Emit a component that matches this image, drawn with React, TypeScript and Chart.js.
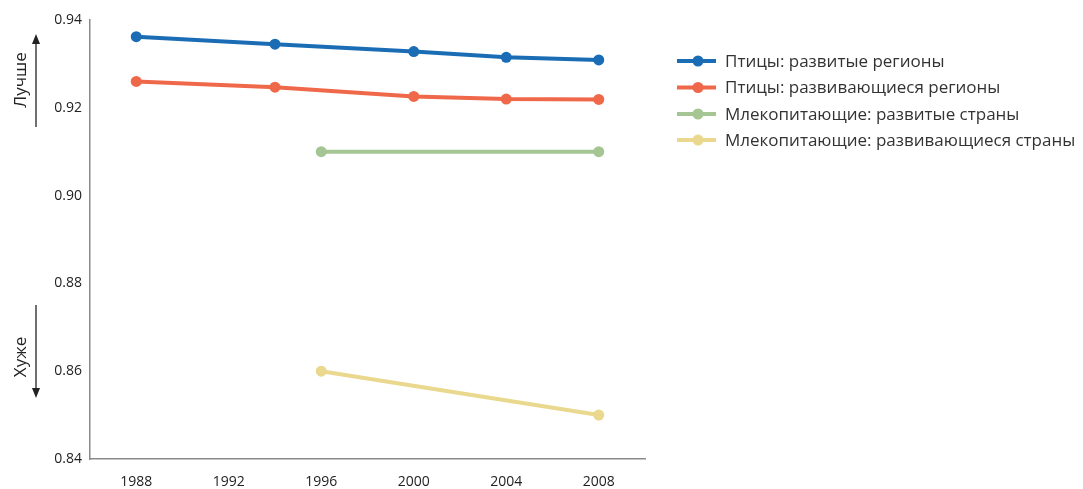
import React, { useEffect, useRef } from "react";
import { Chart, registerables } from "chart.js";

Chart.register(...registerables);

const birdYears = [1988, 1994, 2000, 2004, 2008];
const mammalYears = [1996, 2008];
const birdsDeveloped = [0.9362, 0.9345, 0.9328, 0.9315, 0.9309];
const birdsDeveloping = [0.926, 0.9247, 0.9226, 0.922, 0.9219];
const mammalsDeveloped = [0.91, 0.91];
const mammalsDeveloping = [0.86, 0.85];
const seriesNames = [
  "Птицы: развитые регионы",
  "Птицы: развивающиеся регионы",
  "Млекопитающие: развитые страны",
  "Млекопитающие: развивающиеся страны",
];
const seriesColors = ["#1a6db5", "#ef6849", "#a5c594", "#e9d88e"];
const xTicks = [1988, 1992, 1996, 2000, 2004, 2008];
const yTicks = [0.84, 0.86, 0.88, 0.9, 0.92, 0.94];
const betterLabel = "Лучше";
const worseLabel = "Хуже";

const FONT = "'Open Sans', 'Noto Sans', sans-serif";

const toPoints = (xs: number[], ys: number[]) => xs.map((x, i) => ({ x, y: ys[i] }));

const decorPlugin = {
  id: "decor",
  afterDraw(chart: any) {
    const ctx = chart.ctx;
    ctx.save();
    // legend
    const lx0 = 677;
    const lx1 = 716;
    const tx = 725;
    const rows = [61, 87.5, 114, 140];
    ctx.font = `17px ${FONT}`;
    ctx.textBaseline = "middle";
    ctx.textAlign = "left";
    chart.data.datasets.forEach((ds: any, i: number) => {
      const y = rows[i];
      ctx.strokeStyle = ds.borderColor;
      ctx.lineWidth = 4;
      ctx.beginPath();
      ctx.moveTo(lx0, y);
      ctx.lineTo(lx1, y);
      ctx.stroke();
      ctx.fillStyle = ds.borderColor;
      ctx.beginPath();
      ctx.arc(698, y, 5.5, 0, Math.PI * 2);
      ctx.fill();
      ctx.fillStyle = "#333";
      ctx.fillText(ds.label, tx, y + 1);
    });

    // better / worse arrows
    ctx.strokeStyle = "#222";
    ctx.fillStyle = "#222";
    ctx.lineWidth = 1.3;
    const ax = 36;
    ctx.beginPath();
    ctx.moveTo(ax, 127);
    ctx.lineTo(ax, 42);
    ctx.stroke();
    ctx.beginPath();
    ctx.moveTo(ax, 34);
    ctx.lineTo(ax - 4, 44);
    ctx.lineTo(ax + 4, 44);
    ctx.closePath();
    ctx.fill();
    ctx.beginPath();
    ctx.moveTo(ax, 305);
    ctx.lineTo(ax, 390);
    ctx.stroke();
    ctx.beginPath();
    ctx.moveTo(ax, 398);
    ctx.lineTo(ax - 4, 388);
    ctx.lineTo(ax + 4, 388);
    ctx.closePath();
    ctx.fill();

    ctx.font = `17px ${FONT}`;
    ctx.textAlign = "center";
    ctx.textBaseline = "middle";
    ctx.fillStyle = "#222";
    ctx.save();
    ctx.translate(21, 80);
    ctx.rotate(-Math.PI / 2);
    ctx.fillText(betterLabel, 0, 0);
    ctx.restore();
    ctx.save();
    ctx.translate(21, 357);
    ctx.rotate(-Math.PI / 2);
    ctx.fillText(worseLabel, 0, 0);
    ctx.restore();
    ctx.restore();
  },
};

export default function App() {
  const ref = useRef<HTMLCanvasElement>(null);
  useEffect(() => {
    document.body.style.margin = "0";
    const seriesData = [
      toPoints(birdYears, birdsDeveloped),
      toPoints(birdYears, birdsDeveloping),
      toPoints(mammalYears, mammalsDeveloped),
      toPoints(mammalYears, mammalsDeveloping),
    ];
    const chart = new Chart(ref.current!, {
      type: "line",
      data: {
        datasets: seriesData.map((d, i) => ({
          label: seriesNames[i],
          data: d,
          borderColor: seriesColors[i],
          backgroundColor: seriesColors[i],
          borderWidth: 4,
          pointRadius: 5.5,
          pointBorderWidth: 0,
          pointBackgroundColor: seriesColors[i],
          tension: 0,
        })),
      },
      options: {
        animation: false,
        responsive: false,
        layout: { padding: { left: 0, right: 438, top: 20, bottom: 0 } },
        plugins: { legend: { display: false }, tooltip: { enabled: false } },
        scales: {
          x: {
            type: "linear",
            min: 1986,
            max: 2010,
            afterBuildTicks: (s: any) => {
              s.ticks = xTicks.map((v) => ({ value: v }));
            },
            afterFit: (s: any) => {
              s.height = 30;
            },
            grid: { display: false },
            border: { display: true, color: "#8a8a8a", width: 1.5 },
            ticks: {
              padding: 7,
              color: "#222",
              font: { family: FONT, size: 14 },
              callback: (v: any) => String(v),
            },
          },
          y: {
            min: 0.84,
            max: 0.94,
            afterBuildTicks: (s: any) => {
              s.ticks = yTicks.map((v) => ({ value: v }));
            },
            afterFit: (s: any) => {
              s.width = 90;
            },
            grid: { display: false },
            border: { display: true, color: "#8a8a8a", width: 1.5 },
            ticks: {
              padding: 0,
              color: "#222",
              font: { family: FONT, size: 14 },
              callback: (v: any) => Number(v).toFixed(2),
            },
          },
        },
      },
      plugins: [decorPlugin],
    } as any);
    return () => chart.destroy();
  }, []);
  return (
    <div style={{ width: 1083, height: 489 }}>
      <canvas ref={ref} width={1083} height={489} style={{ width: 1083, height: 489 }} />
    </div>
  );
}
